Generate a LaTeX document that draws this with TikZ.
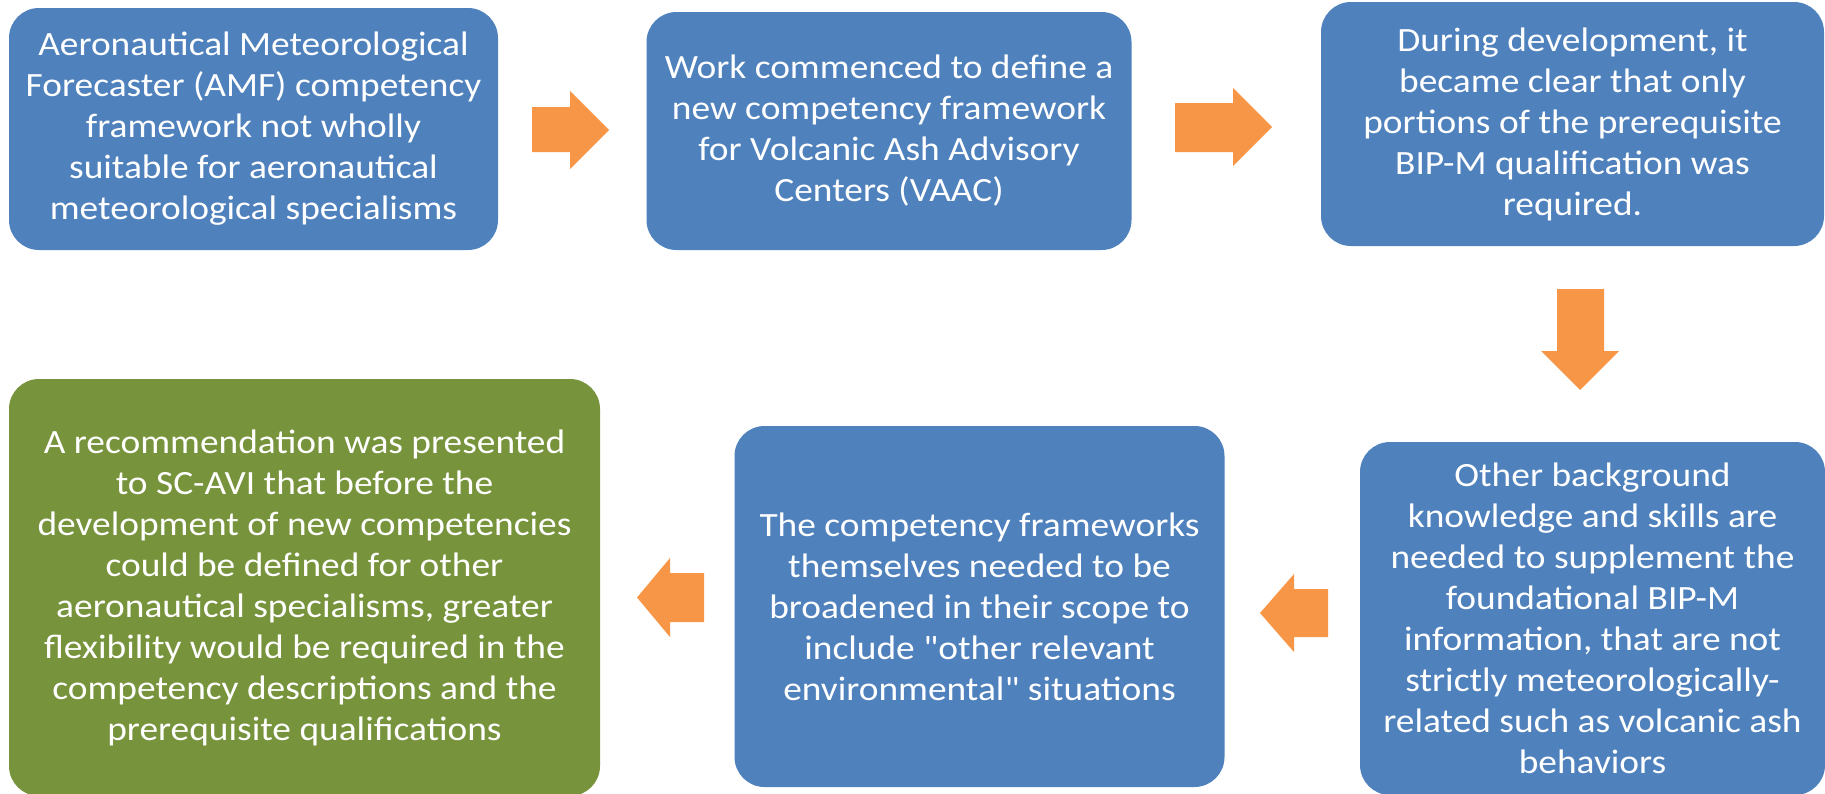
\documentclass[tikz,border=0pt]{standalone}
\usepackage{fontspec}
\setmainfont{Carlito}[FakeStretch=1.1, Ligatures=TeXOff]
\definecolor{boxblue}{HTML}{4F81BD}
\definecolor{boxgreen}{HTML}{77933C}
\definecolor{arroworange}{HTML}{F79646}
\tikzset{
  box/.style={rectangle, rounded corners=30pt, fill=boxblue, text=white, align=center,
    inner sep=0pt, font=\fontsize{34}{41}\selectfont},
  greenbox/.style={box, fill=boxgreen},
  blockarrow/.style={fill=arroworange, draw=none}
}
\begin{document}
\begin{tikzpicture}[x=1pt,y=-1pt]
\useasboundingbox (0,0) rectangle (1825,793);
\clip (0,0) rectangle (1825,793);
% boxes
\node[box, minimum width=489pt, minimum height=242pt] (b1) at (253.5,129)
  {Aeronautical Meteorological\\Forecaster (AMF) competency\\framework not wholly\\suitable for aeronautical\\meteorological specialisms};
\node[box, minimum width=485pt, minimum height=238pt] (b2) at (889,131)
  {Work commenced to define a\\new competency framework\\for Volcanic Ash Advisory\\Centers (VAAC)};
\node[box, minimum width=503pt, minimum height=244pt] (b3) at (1572.5,124)
  {During development, it\\became clear that only\\portions of the prerequisite\\BIP-M qualification was\\required.};
\node[box, minimum width=465pt, minimum height=353pt] (b4) at (1592.5,618.5)
  {Other background\\knowledge and skills are\\needed to supplement the\\foundational BIP-M\\information, that are not\\strictly meteorologically-\\related such as volcanic ash\\behaviors};
\node[box, minimum width=490pt, minimum height=361pt] (b5) at (979.5,606.5)
  {The competency frameworks\\themselves needed to be\\broadened in their scope to\\include "other relevant\\environmental" situations};
\node[greenbox, minimum width=591pt, minimum height=417pt] (b6) at (304.5,587.5)
  {A recommendation was presented\\to SC-AVI that before the\\development of new competencies\\could be defined for other\\aeronautical specialisms, greater\\flexibility would be required in the\\competency descriptions and the\\prerequisite qualifications};
% block arrows
\fill[blockarrow] (532,107) -- (570,107) -- (570,91) -- (609,130) -- (570,169) -- (570,152) -- (532,152) -- cycle;
\fill[blockarrow] (1175,103) -- (1233,103) -- (1233,88) -- (1272,127) -- (1233,166) -- (1233,152) -- (1175,152) -- cycle;
\fill[blockarrow] (1557,289) -- (1557,351) -- (1541,351) -- (1580,390) -- (1619,351) -- (1604,351) -- (1604,289) -- cycle;
\fill[blockarrow] (1328,589) -- (1294,589) -- (1294,574) -- (1260,613) -- (1294,652) -- (1294,637) -- (1328,637) -- cycle;
\fill[blockarrow] (704,573) -- (670,573) -- (670,558) -- (637,597.5) -- (670,637) -- (670,622) -- (704,622) -- cycle;
\end{tikzpicture}
\end{document}
